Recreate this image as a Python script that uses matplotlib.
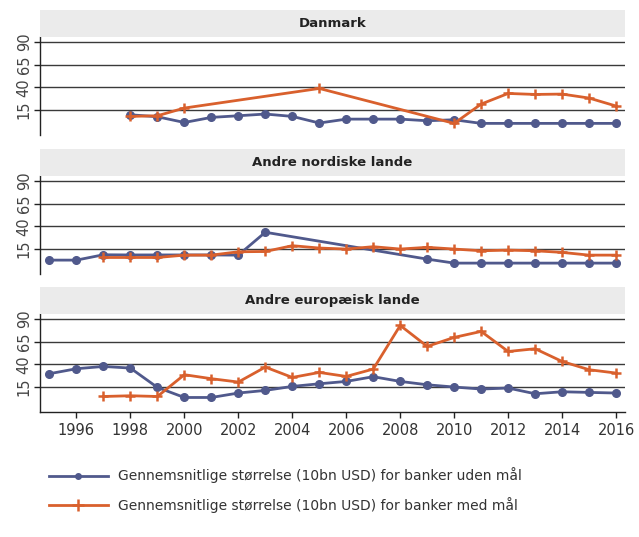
import numpy as np
import matplotlib
matplotlib.use("Agg")
import matplotlib.pyplot as plt
from matplotlib.lines import Line2D

years = list(range(1995, 2017))

panel_titles = ["Danmark", "Andre nordiske lande", "Andre europæisk lande"]

# Average bank size (10bn USD); None where no observation exists
dk_uden = [None, None, None, 9.8, 7.6, 1.3, 6.9, 8.7, 10.6, 8.0, 0.7,
           5.0, 5.0, 5.0, 3.2, 4.3, 0.3, 0.3, 0.3, 0.3, 0.3, 0.3]
dk_med = [None, None, None, 8.0, 8.7, 17.2, None, None, None, None, 38.8,
          None, None, None, None, 0.3, 21.6, 33.3, 32.2, 32.6, 28.2, 19.4]

nord_uden = [2.8, 2.8, 8.7, 8.5, 8.5, 8.5, 8.5, 8.3, 33.5, None, None,
             None, None, None, 3.9, -0.5, -0.5, -0.5, -0.5, -0.5, -0.5, -0.5]
nord_med = [None, None, 5.7, 5.7, 5.7, 8.3, 8.3, 12.0, 12.3, 18.7, 16.1,
            15.0, 17.6, 15.0, 16.9, 15.0, 13.1, 13.8, 13.1, 11.3, 8.3, 8.3]

eu_uden = [29.7, 35.2, 37.7, 35.9, 14.6, 3.5, 3.5, 8.4, 11.3, 15.7, 18.6,
           21.2, 26.4, 21.2, 17.5, 15.0, 12.8, 13.9, 7.6, 9.8, 9.1, 8.4]
eu_med = [None, None, 4.6, 5.4, 4.6, 28.6, 24.2, 20.5, 37.0, 25.6, 31.1,
          26.7, 34.8, 82.9, 59.8, 69.7, 76.3, 54.2, 57.2, 43.2, 34.1, 30.4]

series_uden = [dk_uden, nord_uden, eu_uden]
series_med = [dk_med, nord_med, eu_med]

y_ticks = [15, 40, 65, 90]
x_ticks = list(range(1996, 2017, 2))

label_uden = "Gennemsnitlige størrelse (10bn USD) for banker uden mål"
label_med = "Gennemsnitlige størrelse (10bn USD) for banker med mål"

BLUE = "#50598c"
ORANGE = "#d9602d"
STRIP = "#ebebeb"
GRID = "#3a3a3a"

W, H = 639, 537
fig = plt.figure(figsize=(W / 100, H / 100), dpi=100)
plt.rcParams["font.family"] = ["DejaVu Sans"]


def fx(px):
    return px / W


def fy(py):
    return 1 - py / H


def present(xs, ys):
    pts = [(x, y) for x, y in zip(xs, ys) if y is not None]
    return [p[0] for p in pts], [p[1] for p in pts]


left_px, right_px = 40, 625
plot_tops = [37, 176, 314]
plot_h = 98
strip_h = 27

axes = []
for i, title in enumerate(panel_titles):
    top = plot_tops[i]
    ax = fig.add_axes([fx(left_px), fy(top + plot_h), fx(right_px - left_px), plot_h / H])
    sx = fig.add_axes([fx(left_px), fy(top), fx(right_px - left_px), strip_h / H])
    sx.set_facecolor(STRIP)
    for s in sx.spines.values():
        s.set_visible(False)
    sx.set_xticks([])
    sx.set_yticks([])
    sx.text(0.5, 0.5, title, ha="center", va="center", fontsize=9.5,
            fontweight="bold", color="#222222", transform=sx.transAxes)

    ax.set_xlim(1994.65, 2016.33)
    ax.set_ylim(-12.5, 95.5)
    for y in y_ticks:
        ax.axhline(y, color=GRID, lw=1.0, zorder=1)

    xu, yu = present(years, series_uden[i])
    xm, ym = present(years, series_med[i])
    ax.plot(xu, yu, color=BLUE, lw=2.0, marker="o", ms=5.5, zorder=3,
            label=label_uden)
    ax.plot(xm, ym, color=ORANGE, lw=2.0, marker="+", ms=7.5, mew=1.8, zorder=4,
            label=label_med)

    ax.spines["top"].set_visible(False)
    ax.spines["right"].set_visible(False)
    ax.spines["left"].set_color("#222222")
    ax.spines["left"].set_linewidth(1.0)
    ax.set_yticks(y_ticks)
    ax.set_yticklabels([str(v) for v in y_ticks], rotation=90, va="center",
                       fontsize=10.5, color="#444444")
    ax.tick_params(axis="y", length=4, width=1.0, color="#222222", pad=2)
    if i < 2:
        ax.spines["bottom"].set_visible(False)
        ax.set_xticks([])
    else:
        ax.spines["bottom"].set_color("#222222")
        ax.spines["bottom"].set_linewidth(1.0)
        ax.set_xticks(x_ticks)
        ax.set_xticklabels([str(v) for v in x_ticks], fontsize=10.5,
                           color="#333333")
        ax.tick_params(axis="x", length=4, width=1.0, color="#222222", pad=4)
    axes.append(ax)

handles = [
    Line2D([], [], color=BLUE, lw=2.0, marker="o", ms=4),
    Line2D([], [], color=ORANGE, lw=2.0, marker="+", ms=8, mew=1.8),
]
fig.legend(handles, [label_uden, label_med], loc="upper left",
           bbox_to_anchor=(fx(36), fy(455)), frameon=False, fontsize=10,
           handlelength=4.3, handletextpad=0.7, labelspacing=1.0,
           labelcolor="#333333")

fig.savefig("out.png", dpi=100)
